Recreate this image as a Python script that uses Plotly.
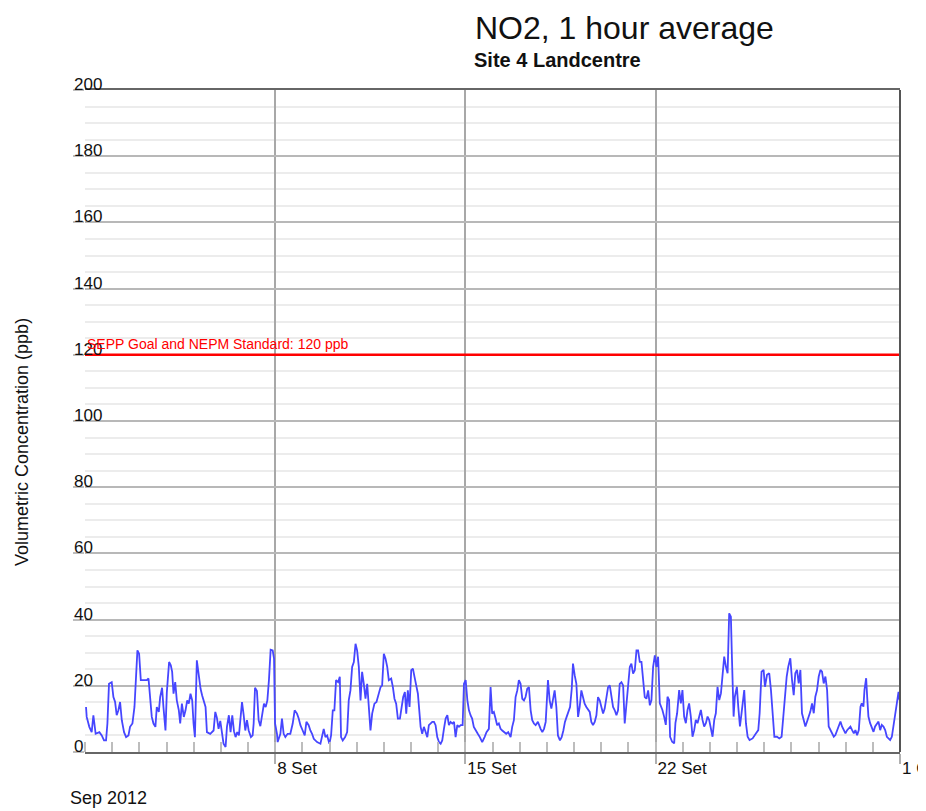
import pandas as pd
import plotly.graph_objects as go

START = "2012-09-01"
END = "2012-10-01"

HOURS = [
    0.9, 1.5, 3.8, 5.9, 7.4, 9.4, 12.7, 14.8, 16.8, 18.6, 19.8, 21.2, 23.6, 25.1, 26.6, 28.0, 29.5, 31.0,
    32.5, 34.5, 36.3, 38.4, 39.8, 41.9, 43.7, 46.3, 47.8, 49.3, 51.6, 54.6, 56.1, 57.5, 59.0, 60.5, 62.2,
    63.4, 65.2, 66.4, 68.1, 69.3, 71.1, 72.3, 74.3, 75.8, 77.0, 78.2, 79.7, 81.1, 82.9, 84.1, 85.6, 87.3,
    88.8, 90.3, 91.7, 93.2, 94.7, 95.9, 97.1, 98.8, 100.6, 102.1, 103.5, 105.0, 106.5, 107.7, 110.6,
    113.6, 115.1, 116.5, 118.0, 119.5, 121.0, 122.4, 124.2, 125.4, 127.1, 128.6, 130.1, 131.6, 133.0,
    134.5, 136.0, 137.5, 138.7, 140.1, 141.6, 143.1, 144.6, 146.6, 148.1, 149.0, 150.2, 151.9, 153.4,
    154.9, 156.6, 158.1, 159.6, 161.1, 162.5, 164.0, 165.8, 167.0, 167.9, 169.6,
    170.2, 172.6, 174.0, 175.5, 177.0, 179.0, 181.4, 183.5, 185.2, 187.3, 188.8, 190.3, 192.3, 194.1,
    195.6, 197.6, 199.1, 200.6, 202.1, 205.0, 208.0, 209.4, 210.9, 212.4, 213.9, 215.9, 217.4, 218.9,
    220.3, 221.8, 223.6, 225.1, 226.2, 227.7, 229.8, 231.6, 233.0, 234.5, 236.0, 237.5, 239.0, 240.4,
    241.9, 243.4, 244.8, 246.3, 247.8, 249.3, 250.7, 252.2, 253.7, 255.7, 257.5, 259.0, 261.1, 262.5,
    264.0, 265.5, 267.0, 268.4, 270.5, 272.0, 273.4, 274.9, 276.4, 278.2, 279.6, 281.1, 282.6, 283.8,
    285.2, 286.7, 288.2, 289.7, 291.1, 292.6, 294.1, 296.5, 297.9, 299.4, 300.9, 302.4, 303.8, 305.3,
    306.8, 308.3, 309.7, 311.2, 312.7, 314.2, 315.6, 317.1, 318.6, 320.1, 321.5, 323.0, 324.5, 326.0,
    327.4, 328.9, 330.4, 331.9, 333.6, 334.8, 336.3, 337.8, 339.2,
    340.6, 342.0, 343.5, 345.0, 347.0, 348.8, 350.9, 353.0, 354.7, 356.8, 358.3, 359.7, 361.2, 362.7,
    364.1, 365.6, 367.1, 368.6, 370.1, 372.1, 373.9, 376.0, 377.4, 378.9, 380.4, 381.9, 383.3, 384.8,
    386.3, 387.8, 389.2, 390.7, 392.2, 393.7, 395.1, 396.6, 398.1, 400.1, 402.5, 404.0, 405.5, 407.0,
    409.0, 410.5, 412.0, 413.4, 414.9, 416.4, 417.8, 419.6, 421.1, 422.6, 424.0, 425.5, 427.0, 428.5,
    430.0, 431.1, 432.6, 434.1, 435.6, 437.0, 438.5, 440.0, 441.4, 442.9, 444.4, 445.9, 447.3, 448.8,
    450.3, 451.8, 453.2, 454.7, 456.2, 457.7, 459.1, 460.6, 462.1, 463.6, 465.0, 466.5, 468.0, 469.5,
    470.9, 472.4, 473.9, 475.4, 476.8, 478.3, 479.8, 481.3, 482.7, 484.2, 485.7, 487.2, 488.6, 490.1,
    491.6, 493.1, 494.5, 496.0, 497.5, 499.0, 500.4, 501.9, 503.4, 504.9,
    506.3, 507.8, 510.1, 511.6, 513.1, 514.6, 516.0, 516.9, 518.7, 520.5, 521.6, 523.1, 524.9, 526.4,
    527.8, 529.3, 530.8, 532.3, 533.7, 535.2, 536.7, 538.2, 539.6, 541.1, 542.6, 544.1, 545.5, 547.0,
    548.5, 550.0, 551.4, 552.9, 554.4, 555.9, 557.3, 558.8, 560.3, 561.8, 563.2, 564.7, 566.2, 567.7,
    569.1, 570.6, 571.5, 572.1, 573.0, 574.1, 575.9, 577.1, 578.6, 580.0, 581.2, 582.4, 583.9, 585.4,
    587.1, 589.8, 592.7, 594.8, 596.0, 597.7, 599.5, 600.7, 602.5, 604.5, 606.0, 607.5, 609.0, 611.3,
    613.4, 615.4, 616.9, 618.4, 619.9, 621.3, 623.1, 624.6, 626.1, 627.5, 629.0, 630.5, 632.0, 633.4,
    634.9, 636.4, 637.9, 639.3, 640.8, 642.3, 643.8, 645.2, 646.7, 648.2, 649.7, 651.1, 652.6, 654.1,
    655.6, 657.0, 658.5, 660.0, 661.5, 662.9, 664.4, 665.9, 667.4, 668.8, 670.3, 671.8, 673.3, 674.7,
    676.2, 677.7, 679.2, 680.6, 682.1, 683.6, 685.1, 686.2, 687.7, 688.6, 690.1, 691.0, 692.1, 693.6,
    695.1, 696.6, 698.0, 699.5, 701.0, 702.5, 703.9, 705.4, 706.9, 708.4, 709.8, 711.3, 712.8, 714.3,
    715.7, 717.2, 718.7, 719.6,
]

NO2_PPB = [
    13.6, 10.6, 7.6, 6.0, 11.1, 5.5, 6.0, 5.0, 3.5, 3.5, 8.6, 20.6, 21.1, 16.6, 15.1, 11.1, 12.6, 15.1,
    9.6, 6.0, 4.5, 5.0, 7.6, 8.6, 13.6, 30.7, 29.7, 21.7, 21.7, 21.7, 22.2, 15.6, 10.6, 8.6, 7.6,
    13.6, 12.1, 16.6, 19.4, 13.6, 6.5, 18.1, 27.2, 26.2, 24.2, 17.6, 21.1, 15.6, 12.6, 8.6, 14.6, 10.6,
    12.6, 15.6, 14.6, 17.6, 15.6, 8.6, 4.5, 27.7, 22.7, 19.1, 17.1, 15.1, 13.6, 6.0, 5.5,
    6.5, 12.1, 10.4, 7.0, 9.4, 6.0, 2.5, 1.5, 7.6, 11.1, 6.0, 11.1, 6.3, 4.5,
    6.0, 5.0, 9.6, 15.1, 11.4, 6.5, 9.6, 6.5, 4.5, 5.0, 8.6, 19.4, 18.4, 9.6,
    7.8, 11.6, 14.6, 13.6, 15.6, 21.7, 30.9, 30.7, 28.2, 8.6, 5.5,
    3.0, 5.5, 10.1, 5.5, 4.5, 5.5, 5.5, 8.6, 12.6, 11.6, 10.1, 8.1, 6.5, 5.0,
    9.1, 8.1, 6.5, 5.5, 4.0, 3.0, 2.5, 5.0, 7.0, 4.5, 5.0, 2.5, 5.0, 12.6,
    12.6, 21.7, 21.1, 22.7, 4.5, 3.5, 4.5, 6.0, 15.6, 18.6, 25.7, 27.2, 32.7, 30.7,
    25.7, 15.6, 24.2, 20.6, 16.1, 20.6, 12.6, 6.5, 11.6, 14.6, 15.1, 17.1, 19.6, 20.1,
    29.7, 28.2, 25.7, 21.7, 22.2, 19.6, 16.1, 14.6, 10.1, 10.1, 13.6, 16.6, 18.1, 11.6,
    18.6, 13.6, 24.7, 25.2, 22.7, 19.6, 17.6, 7.6, 5.5, 7.6, 6.0, 4.5, 8.1, 8.6,
    9.1, 9.1, 8.1, 4.5, 3.0, 2.5, 3.5, 7.0, 10.1, 11.1, 8.1, 9.1, 8.6, 9.1,
    4.5, 8.1, 7.6, 8.1, 8.1, 20.6, 21.7, 15.6, 12.6,
    11.1, 10.1, 7.6, 6.5, 5.5, 4.5, 3.0, 4.5, 6.0, 7.0, 19.6, 11.6, 12.1, 10.1,
    8.1, 8.6, 7.0, 6.5, 6.0, 5.5, 6.0, 4.5, 7.6, 9.6, 16.6, 18.6, 21.7, 20.6,
    16.1, 15.6, 16.6, 19.1, 19.6, 12.6, 9.6, 8.6, 8.1, 9.1, 7.0, 6.0, 7.0, 9.1,
    21.7, 15.6, 13.1, 15.6, 18.6, 13.6, 5.0, 3.5, 4.5, 6.5, 9.1, 10.6, 12.1, 13.6,
    19.1, 26.7, 23.2, 20.6, 10.6, 13.6, 18.6, 16.6, 14.6, 13.6, 12.6, 12.1, 9.1, 8.1,
    9.1, 11.1, 16.6, 15.6, 13.6, 11.6, 13.1, 16.6, 19.6, 20.1, 16.6, 13.6, 12.6, 11.1,
    12.6, 20.6, 21.1, 20.1, 8.6, 14.6, 21.7, 25.7, 26.7, 23.7, 24.7, 30.7, 30.7, 27.2,
    27.2, 22.2, 16.6, 16.1, 18.6, 14.1, 15.6, 25.7, 29.2, 25.7,
    28.8, 14.7, 12.7, 10.7, 8.2, 16.7, 15.7, 4.6, 3.1, 2.6, 8.7, 11.7, 18.7, 14.7,
    18.7, 10.7, 8.7, 12.7, 14.7, 10.7, 4.6, 6.6, 9.7, 8.7, 10.7, 12.7, 9.7, 7.7,
    8.7, 10.7, 9.7, 6.6, 4.6, 9.7, 11.7, 19.7, 15.7, 17.7, 23.8, 28.8, 25.8, 23.8,
    41.9, 40.9, 28.8, 18.7, 10.7, 16.7, 19.7, 13.7, 7.7, 11.7, 14.7, 18.7, 8.7, 4.6,
    3.6, 4.1, 5.6, 6.6, 11.7, 24.3, 24.8, 19.7, 23.3, 23.8, 18.7, 10.7, 4.6, 4.6,
    4.1, 4.6, 10.7, 16.7, 22.8, 25.8, 28.3, 21.8, 17.2, 23.8, 24.8, 20.7, 24.8, 11.7,
    9.2, 7.7, 9.2, 10.7, 12.2, 14.7, 11.7, 16.7, 18.7, 22.8, 24.8, 24.3, 20.7, 22.8,
    18.7, 7.7, 6.6, 5.6, 4.6, 5.1, 6.6, 7.7, 9.2, 7.7, 6.6, 5.6, 6.6, 7.2,
    7.7, 6.6, 5.6, 6.6, 5.1, 6.6, 13.7, 14.7, 13.7, 18.7, 22.3, 16.7, 10.7, 8.7,
    7.2, 6.1, 7.7, 8.7, 9.2, 6.6, 8.2, 7.7, 6.6, 4.6, 4.1, 3.6, 4.6, 7.7,
    10.7, 14.7, 18.2, 15.7,
]

STANDARD_PPB = 120
STANDARD_LABEL = "SEPP Goal and NEPM Standard: 120 ppb"
Y_TICKS = list(range(0, 201, 20))
X_TICK_DATES = ["2012-09-08", "2012-09-15", "2012-09-22", "2012-10-01"]
X_TICK_LABELS = ["8 Set", "15 Set", "22 Set", "1 Out"]
TITLE = "NO2, 1 hour average"
SUBTITLE = "Site 4 Landcentre"
Y_TITLE = "Volumetric Concentration (ppb)"
YEAR_LABEL = "Sep 2012"

times = pd.Timestamp(START) + pd.to_timedelta(HOURS, unit="h")

FONT = "Liberation Sans, Arial, sans-serif"
W, H = 918, 803  # page adds an 8px body margin

fig = go.Figure()
fig.add_trace(go.Scatter(
    x=times, y=NO2_PPB, mode="lines",
    line=dict(color="rgb(70,70,255)", width=1.8),
    showlegend=False, hoverinfo="x+y",
))
fig.add_trace(go.Scatter(
    x=[START, END], y=[STANDARD_PPB, STANDARD_PPB], mode="lines",
    line=dict(color="#ff0000", width=2.5),
    showlegend=False,
))

fig.update_layout(
    width=W, height=H,
    margin=dict(l=77, r=26, t=82, b=59, autoexpand=False),
    paper_bgcolor="white", plot_bgcolor="white",
    font=dict(family=FONT, color="#111111"),
    title=dict(
        text=TITLE, x=467 / W, xanchor="left", xref="container",
        y=1 - 20 / H, yanchor="middle", yref="container",
        font=dict(size=32, color="#111111", family=FONT),
    ),
    xaxis=dict(
        type="date",
        range=[START, END],
        automargin=False,
        tickvals=X_TICK_DATES, ticktext=X_TICK_LABELS,
        ticklabelposition="outside right",
        ticklabeloverflow="allow",
        ticks="outside", ticklen=10, tickwidth=2, tickcolor="#b0b0b0",
        tickfont=dict(size=17, color="#111111"),
        showgrid=True, gridcolor="#a8a8a8", gridwidth=1.5,
        showline=True, linecolor="#666666", linewidth=2, mirror=True,
        zeroline=False,
        minor=dict(dtick=86400000, tick0=START, ticks="inside", ticklen=10,
                   tickwidth=2, tickcolor="#bdbdbd", showgrid=False),
    ),
    yaxis=dict(
        range=[0, 200],
        automargin=False,
        tickvals=Y_TICKS,
        ticks="outside", ticklen=11, tickwidth=2, tickcolor="#bdbdbd",
        ticklabelposition="inside",
        ticklabeloverflow="allow",
        ticklabelstandoff=-14,
        ticklabelshift=-6,
        tickfont=dict(size=17, color="#111111"),
        showgrid=True, gridcolor="#b8b8b8", gridwidth=1.5,
        showline=False, zeroline=False,
        minor=dict(dtick=5, showgrid=True, gridcolor="#ececec", gridwidth=2),
    ),
    annotations=[
        dict(text=SUBTITLE, xref="paper", yref="paper",
             x=(472 - 85) / 815, y=(752 - 60) / 662, xanchor="left", yanchor="middle",
             showarrow=False, font=dict(size=20, color="#111111", family=FONT, weight="bold")),
        dict(text=Y_TITLE, xref="paper", yref="paper", textangle=-90,
             x=(22 - 85) / 815, y=(752 - 442) / 662, xanchor="center", yanchor="middle",
             showarrow=False, font=dict(size=18, color="#111111", family=FONT)),
        dict(text=YEAR_LABEL, xref="paper", yref="paper",
             x=(68 - 85) / 815, y=(752 - 798) / 662, xanchor="left", yanchor="middle",
             showarrow=False, font=dict(size=18, color="#111111", family=FONT)),
        dict(text=STANDARD_LABEL, xref="x", yref="y",
             x=START, y=STANDARD_PPB, xanchor="left", yanchor="bottom",
             xshift=0, yshift=1,
             showarrow=False, font=dict(size=14, color="#ff0000", family=FONT)),
    ],
    shapes=[
        dict(type="line", xref="paper", yref="paper", x0=1, x1=1, y0=0, y1=1,
             line=dict(color="#555555", width=2)),
    ],
)

fig.write_html("out.html")
